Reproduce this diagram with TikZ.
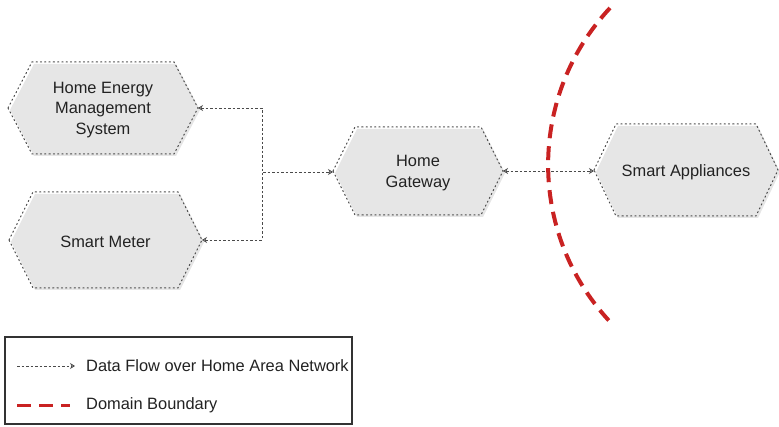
\documentclass[tikz,border=0pt]{standalone}
\usepackage{fontspec}
\setmainfont{Liberation Sans}
\usetikzlibrary{arrows.meta}
\definecolor{hexgray}{HTML}{E6E6E6}
\definecolor{linegray}{HTML}{4A4A4A}
\definecolor{textdark}{HTML}{222222}
\definecolor{bred}{HTML}{C92222}
\definecolor{boxgray}{HTML}{333333}

\tikzset{
  hexfill/.style={fill=hexgray, draw=none},
  hexline/.style={draw=linegray, line width=1pt, dash pattern=on 1.3pt off 3pt, line cap=round},
  lbl/.style={font=\fontsize{16.4}{20.5}\selectfont, text=textdark, align=center, inner sep=0pt},
  tip/.tip={Stealth[open, length=5pt, width=6pt, line width=0.7pt]},
  flow/.style={draw=linegray, line width=0.9pt, dash pattern=on 2.5pt off 2pt},
  boundary/.style={draw=bred, line width=4pt, dash pattern=on 14pt off 8pt},
  legendbox/.style={draw=boxgray, line width=1.4pt, fill=white, inner sep=0pt}
}

% hexagon: name, centre x, centre y, half width, half height, point depth, text
\newcommand\hexagonbox[7]{%
  \begin{scope}[shift={(#2,#3)}]
    \fill[hexfill, shift={(2,2)}] (-#4,0) -- (-#4+#6,-#5) -- (#4-#6,-#5) -- (#4,0)
      -- (#4-#6,#5) -- (-#4+#6,#5) -- cycle;
    \draw[hexline] (-#4,0) -- (-#4+#6,-#5) -- (#4-#6,-#5) -- (#4,0)
      -- (#4-#6,#5) -- (-#4+#6,#5) -- cycle;
    \coordinate (#1-w) at (-#4,0);
    \coordinate (#1-e) at (#4,0);
    \node[lbl] (#1) at (0,2) {#7};
  \end{scope}}

\begin{document}
\begin{tikzpicture}[x=1pt, y=-1pt]
  \useasboundingbox (0,0) rectangle (779,427);

  % devices
  \hexagonbox{hems}{103}{108}{95}{46}{24}{Home Energy\\Management\\System}
  \hexagonbox{meter}{105.5}{240}{96.5}{48}{24}{Smart Meter}
  \hexagonbox{gw}{418}{171}{85}{44}{22}{Home\\Gateway}
  \hexagonbox{app}{686}{170}{92}{46}{22}{Smart Appliances}

  % data flows
  \coordinate (join) at (262,172);
  \draw[flow, tip-tip] (hems-e) -| (join) -- (gw-w |- join);
  \draw[flow, tip-] (meter-e) -| (join);
  \draw[flow, tip-tip] (gw-e) -- (app-w |- gw-e);

  % domain boundary
  \draw[boundary] (610,8) arc[start angle=223.06, end angle=137.4, radius=229.8];

  % legend
  \node[legendbox, minimum width=347pt, minimum height=87pt] (legend) at (178.5,380.5) {};
  \coordinate (lf1) at (17,366);
  \coordinate (lf2) at (75,366);
  \draw[flow, -tip] (lf1) -- (lf2);
  \node[lbl, anchor=west] (lflow) at (86,366) {Data Flow over Home Area Network};
  \coordinate (lb1) at (17,405);
  \coordinate (lb2) at (70,405);
  \draw[boundary, line width=3pt] (lb1) -- (lb2);
  \node[lbl, anchor=west] (lbound) at (86,405) {Domain Boundary};
\end{tikzpicture}
\end{document}
